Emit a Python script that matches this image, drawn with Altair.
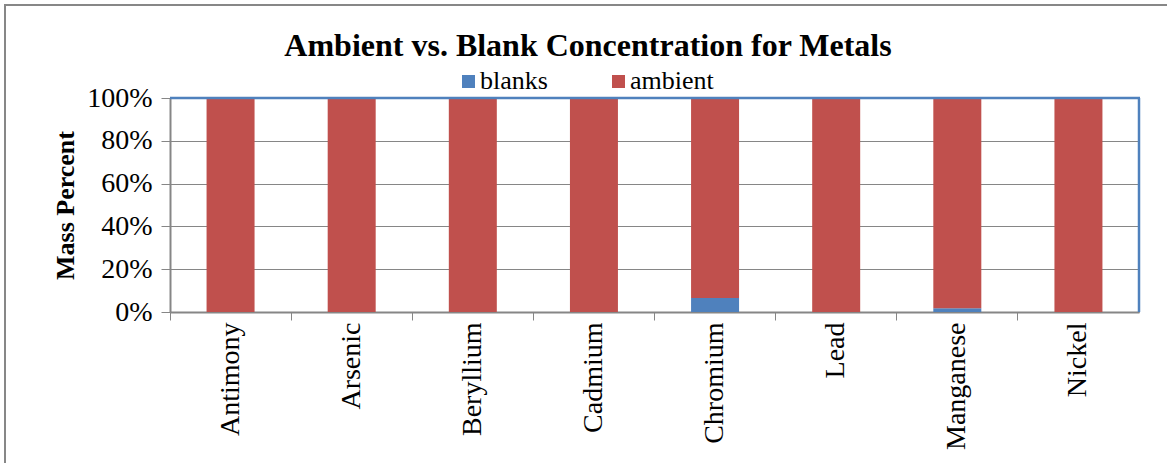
import altair as alt
import pandas as pd

metals = ["Antimony", "Arsenic", "Beryllium", "Cadmium", "Chromium", "Lead", "Manganese", "Nickel"]
blanks = [0.0, 0.0, 0.0, 0.0, 6.5, 0.0, 1.7, 0.0]
ambient = [100.0, 100.0, 100.0, 100.0, 93.5, 100.0, 98.3, 100.0]
series = ["blanks", "ambient"]
colors = ["#4F81BD", "#C0504D"]
title_text = "Ambient vs. Blank Concentration for Metals"

rows = []
for m, b, a in zip(metals, blanks, ambient):
    rows.append({"metal": m, "series": "blanks", "order": 0, "value": b})
    rows.append({"metal": m, "series": "ambient", "order": 1, "value": a})
df = pd.DataFrame(rows)

FONT = "Liberation Serif"
W, H = 969, 214
PAD_L, PAD_T = 170, 98
one = pd.DataFrame({"k": [0]})
color_scale = alt.Scale(domain=series, range=colors)

bars = alt.Chart(df).mark_bar(size=48).encode(
    x=alt.X("metal:N", sort=metals, title=None,
            scale=alt.Scale(paddingInner=0, paddingOuter=0),
            axis=alt.Axis(labelAngle=270, labelAlign="right", labelBaseline="middle",
                          labelFontSize=28, labelFont=FONT, labelColor="#000000",
                          labelPadding=2, tickSize=8, bandPosition=0,
                          domainColor="#868686", tickColor="#868686", domainWidth=2)),
    y=alt.Y("value:Q", stack=True, title="Mass Percent",
            scale=alt.Scale(domain=[0, 100], nice=False),
            axis=alt.Axis(values=[0, 20, 40, 60, 80, 100], labelExpr="datum.value + '%'",
                          labelFontSize=28, labelFont=FONT, labelColor="#000000",
                          labelPadding=9, tickSize=9, tickColor="#868686",
                          domainColor="#868686", domainWidth=2,
                          gridColor="#868686", gridWidth=1.2,
                          titleFont=FONT, titleFontSize=26, titleFontWeight="bold",
                          titleColor="#000000", titlePadding=8)),
    color=alt.Color("series:N", scale=color_scale, legend=None),
    order=alt.Order("order:Q"),
)

# legend: a coloured square and a label for each series
legend_x = [462 - PAD_L, 612 - PAD_L]
legend_layers = []
for name, lx in zip(series, legend_x):
    src = pd.DataFrame({"series": [name]})
    legend_layers.append(
        alt.Chart(src).mark_square(size=169, opacity=1).encode(
            x=alt.value(lx + 6.5), y=alt.value(81.5 - PAD_T),
            color=alt.Color("series:N", scale=color_scale, legend=None)))
    legend_layers.append(
        alt.Chart(src).mark_text(font=FONT, fontSize=26, color="#000000",
                                 align="left", baseline="alphabetic").encode(
            x=alt.value(lx + 18), y=alt.value(89 - PAD_T), text="series:N"))

# blue plot-area border on the top and right sides
top_edge = alt.Chart(one).mark_rule(color="#4F81BD", strokeWidth=2.5).encode(
    x=alt.value(0), x2=alt.value(W + 1), y=alt.value(0))
right_edge = alt.Chart(one).mark_rule(color="#4F81BD", strokeWidth=2.5).encode(
    x=alt.value(W), y=alt.value(0), y2=alt.value(H))

# outer chart frame
frame = alt.Chart(one).mark_rect(
    fill=None, stroke="#878787", strokeWidth=2, clip=False
).encode(
    x=alt.value(5 - PAD_L), x2=alt.value(1200 - PAD_L),
    y=alt.value(5 - PAD_T), y2=alt.value(500 - PAD_T),
)

title = alt.Chart(one).mark_text(
    text=title_text, font=FONT, fontSize=32, fontWeight="bold", color="#000000",
    align="center", baseline="alphabetic"
).encode(x=alt.value(588 - PAD_L), y=alt.value(56 - PAD_T))

chart = alt.layer(frame, bars, top_edge, right_edge, title, *legend_layers).properties(
    width=W, height=H,
    autosize=alt.AutoSizeParams(type="none"),
    padding={"left": PAD_L, "top": PAD_T, "right": 1167 - PAD_L - W, "bottom": 463 - PAD_T - H},
).configure_view(stroke=None).configure(background="white", font=FONT)

chart.save("out.html", embed_options={"renderer": "svg", "actions": False})
